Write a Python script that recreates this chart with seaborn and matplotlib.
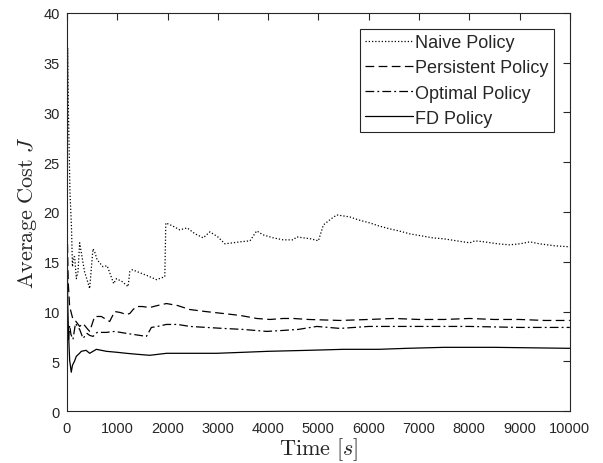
import matplotlib

matplotlib.use("Agg")

import matplotlib.pyplot as plt
import pandas as pd
import seaborn as sns


# values (time in s, average cost J)
naive_t = [0, 15, 30, 60, 90, 110, 130, 153, 187, 220, 253, 300, 350, 400, 452,
           518, 551, 600, 717, 800, 930, 984, 1100, 1215, 1250, 1300, 1448, 1600,
           1781, 1946, 1966, 2100, 2245, 2390, 2550, 2709, 2843, 3000, 3141, 3300,
           3440, 3640, 3773, 3900, 4104, 4300, 4502, 4566, 4701, 4850, 5000, 5100,
           5250, 5366, 5500, 5626, 5800, 6024, 6200, 6421, 6600, 6819, 7050, 7276,
           7500, 7750, 8012, 8111, 8300, 8569, 8800, 9006, 9205, 9400, 9700, 10000]
naive_j = [5, 36.5, 30, 22, 18.5, 14.5, 15.5, 15.5, 13.3, 14.0, 16.9, 15.5, 14.0,
           13.2, 12.3, 16.3, 16.0, 15.2, 14.5, 14.6, 12.8, 13.3, 13.0, 12.5, 14.0,
           14.2, 13.9, 13.6, 13.2, 13.5, 18.9, 18.6, 18.2, 18.4, 17.8, 17.4, 18.0,
           17.5, 16.8, 16.9, 17.0, 17.1, 18.1, 17.7, 17.4, 17.2, 17.2, 17.5, 17.4,
           17.3, 17.1, 18.7, 19.3, 19.7, 19.6, 19.5, 19.2, 18.9, 18.6, 18.3, 18.1,
           17.8, 17.6, 17.4, 17.3, 17.1, 16.9, 17.1, 17.0, 16.8, 16.7, 16.8, 17.0,
           16.8, 16.6, 16.5]

pers_t = [0, 8, 25, 54, 120, 180, 253, 320, 400, 452, 518, 551, 684, 780, 850,
          950, 1060, 1183, 1250, 1316, 1382, 1500, 1647, 1800, 1979, 2200, 2443,
          2750, 3108, 3450, 3773, 4038, 4300, 4502, 4800, 5432, 6000, 6500, 7000,
          7500, 8000, 8500, 9000, 9500, 10000]
pers_j = [3, 17.8, 13, 10.5, 9.2, 9.0, 8.5, 8.8, 8.3, 8.0, 9.0, 9.5, 9.5, 9.2,
          9.0, 10.0, 9.9, 9.7, 9.8, 10.2, 10.5, 10.5, 10.4, 10.6, 10.8, 10.6,
          10.2, 10.0, 9.8, 9.6, 9.3, 9.2, 9.3, 9.3, 9.2, 9.1, 9.2, 9.3, 9.2, 9.2,
          9.3, 9.2, 9.2, 9.1, 9.1]

opt_t = [0, 10, 30, 54, 80, 120, 170, 253, 320, 400, 452, 520, 600, 784, 950,
         1183, 1448, 1580, 1680, 1800, 1979, 2200, 2443, 3108, 3500, 3972, 4300,
         4600, 4967, 5432, 6000, 7000, 8000, 9000, 10000]
opt_j = [2, 9.5, 7.0, 8.6, 7.7, 7.2, 8.8, 8.2, 7.3, 7.8, 7.6, 7.5, 7.9, 7.9, 8.0,
         7.8, 7.6, 7.5, 8.4, 8.5, 8.7, 8.7, 8.5, 8.3, 8.2, 8.0, 8.1, 8.2, 8.5,
         8.3, 8.5, 8.5, 8.5, 8.4, 8.4]

fd_t = [0, 5, 15, 30, 54, 86, 110, 150, 187, 250, 286, 380, 452, 585, 784, 1000,
        1183, 1400, 1647, 1979, 2500, 2975, 3500, 4000, 4800, 5500, 6200, 6757,
        7500, 8500, 10000]
fd_j = [1.7, 17.5, 11, 8, 5.1, 3.9, 4.6, 5.0, 5.5, 5.8, 6.0, 6.1, 5.8, 6.2, 6.0,
        5.9, 5.8, 5.7, 5.6, 5.8, 5.8, 5.8, 5.9, 6.0, 6.1, 6.2, 6.2, 6.3, 6.4,
        6.4, 6.3]

policies = ["Naive Policy", "Persistent Policy", "Optimal Policy", "FD Policy"]


def build_frame() -> pd.DataFrame:
    parts = []
    for name, t, j in zip(policies, [naive_t, pers_t, opt_t, fd_t],
                          [naive_j, pers_j, opt_j, fd_j]):
        parts.append(pd.DataFrame({"time": t, "cost": j, "policy": name}))
    return pd.concat(parts, ignore_index=True)


sns.set_style("white")
plt.rcParams["font.family"] = ["Liberation Sans", "DejaVu Sans"]
plt.rcParams["mathtext.fontset"] = "cm"

df = build_frame()

fig = plt.figure(figsize=(6.03, 4.64), dpi=100)
ax = fig.add_axes([0.111, 0.112, 0.834, 0.858])

dashes = {
    "Naive Policy": (1, 1.6),
    "Persistent Policy": (7, 3.5),
    "Optimal Policy": (7, 2.5, 1.5, 2.5),
    "FD Policy": "",
}
sns.lineplot(
    data=df,
    x="time",
    y="cost",
    hue="policy",
    style="policy",
    hue_order=policies,
    style_order=policies,
    palette=["black"] * 4,
    dashes=dashes,
    estimator=None,
    sort=False,
    linewidth=0.9,
    ax=ax,
)

ax.set_xlim(0, 10000)
ax.set_ylim(0, 40)
ax.set_xticks(range(0, 10001, 1000))
ax.set_yticks(range(0, 41, 5))
ax.tick_params(direction="in", top=True, right=True, length=5, width=0.8,
               labelsize=10.5, colors="#262626")
ax.tick_params(axis="x", pad=7)
ax.tick_params(axis="y", pad=5)
for spine in ax.spines.values():
    spine.set_visible(True)
    spine.set_color("#262626")
    spine.set_linewidth(0.8)

ax.set_xlabel(r"$\mathrm{Time}\ [s]$", fontsize=16, labelpad=0)
ax.set_ylabel(r"$\mathrm{Average\ Cost}\ J$", fontsize=16, labelpad=3)

handles, labels = ax.get_legend_handles_labels()
leg = ax.legend(
    handles[-4:],
    labels[-4:],
    loc="upper right",
    bbox_to_anchor=(0.968, 0.960),
    borderaxespad=0,
    fontsize=13,
    frameon=True,
    fancybox=False,
    framealpha=1,
    edgecolor="#262626",
    handlelength=2.65,
    handletextpad=0.12,
    labelspacing=0.45,
    borderpad=0.3,
)
leg.get_frame().set_linewidth(0.8)

fig.savefig("out.png", dpi=100)
